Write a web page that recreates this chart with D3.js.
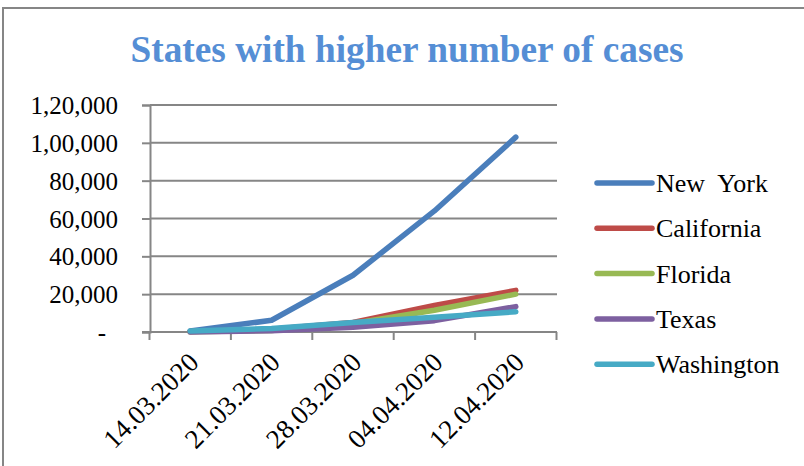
<!DOCTYPE html>
<html lang="en">
<head>
<meta charset="UTF-8">
<title>States with higher number of cases</title>
<script src="https://d3js.org/d3.v7.min.js"></script>
<style>
  body { margin: 0; background: #fff; }
  svg { display: block; font-family: "Liberation Serif", "Times New Roman", serif; }
</style>
</head>
<body>
<div id="chart"></div>
<script>
// data
const dates = ["14.03.2020", "21.03.2020", "28.03.2020", "04.04.2020", "12.04.2020"];
const states = ["New  York", "California", "Florida", "Texas", "Washington"];
const newYork    = [500, 6200, 30000, 64000, 103000];
const california = [250, 1400, 5000, 14000, 22000];
const florida    = [80, 800, 4500, 11500, 20000];
const texas      = [60, 600, 2500, 6000, 13400];
const washington = [570, 1800, 5000, 7800, 10700];
const yTicks = [0, 20000, 40000, 60000, 80000, 100000, 120000];
const colors = ["#4a7ebb", "#be4b48", "#98b954", "#7d60a0", "#46aac5"];

const series = [newYork, california, florida, texas, washington];

const width = 804, height = 466;
const svg = d3.select("#chart").append("svg")
    .attr("width", width)
    .attr("height", height);

// outer chart border
svg.append("rect")
    .attr("x", 3).attr("y", 8)
    .attr("width", 820).attr("height", 480)
    .attr("fill", "none")
    .attr("stroke", "#868686")
    .attr("stroke-width", 2);

// title
svg.append("text")
    .attr("x", 407).attr("y", 62)
    .attr("text-anchor", "middle")
    .attr("font-size", 38)
    .attr("font-weight", "bold")
    .attr("fill", "#558ed5")
    .attr("textLength", 553)
    .attr("lengthAdjust", "spacingAndGlyphs")
    .text("States with higher number of cases");

const x = d3.scalePoint().domain(dates).range([149.5, 556.5]).padding(0.5);
const y = d3.scaleLinear().domain([0, 120000]).range([332, 105]);
const step = x.step();

const grey = "#868686";

// horizontal gridlines
svg.append("g").selectAll("line")
    .data(yTicks.filter(d => d > 0))
    .join("line")
    .attr("x1", 150).attr("x2", 557)
    .attr("y1", d => y(d)).attr("y2", d => y(d))
    .attr("stroke", grey).attr("stroke-width", 2);

// y axis
const fmt = d3.format(",");
const yAxis = svg.append("g")
    .attr("transform", "translate(150,0)")
    .call(d3.axisLeft(y).tickValues(yTicks).tickSize(8).tickPadding(24)
        .tickFormat(d => d === 0 ? "-" : fmt(d).replace("120,000", "1,20,000").replace("100,000", "1,00,000")));
yAxis.select(".domain").attr("stroke", grey).attr("stroke-width", 2);
yAxis.selectAll(".tick line").attr("stroke", grey).attr("stroke-width", 2);
yAxis.selectAll(".tick text")
    .attr("font-family", "Liberation Serif, serif")
    .attr("font-size", 25)
    .attr("fill", "#000")
    .attr("dy", "0.34em");
yAxis.selectAll(".tick text").filter(d => d === 0).attr("dx", -12);

// x axis line and ticks at category boundaries
const xg = svg.append("g");
xg.append("line")
    .attr("x1", 142).attr("x2", 557)
    .attr("y1", y(0)).attr("y2", y(0))
    .attr("stroke", grey).attr("stroke-width", 2);
const bounds = dates.map(d => x(d) - step / 2).concat([x(dates[dates.length - 1]) + step / 2]);
xg.selectAll("line.tk")
    .data(bounds)
    .join("line")
    .attr("class", "tk")
    .attr("x1", d => d).attr("x2", d => d)
    .attr("y1", y(0)).attr("y2", y(0) + 8)
    .attr("stroke", grey).attr("stroke-width", 2);
xg.selectAll("text")
    .data(dates)
    .join("text")
    .attr("transform", d => `translate(${x(d) + 10},${y(0) + 32}) rotate(-45)`)
    .attr("text-anchor", "end")
    .attr("font-size", 27)
    .attr("fill", "#000")
    .text(d => d);

// series lines
const line = d3.line()
    .x((d, i) => x(dates[i]))
    .y(d => y(d));

svg.append("g").selectAll("path")
    .data(series)
    .join("path")
    .attr("d", line)
    .attr("fill", "none")
    .attr("stroke", (d, i) => colors[i])
    .attr("stroke-width", 5.5)
    .attr("stroke-linecap", "round")
    .attr("stroke-linejoin", "round");

// legend
const legend = svg.append("g").selectAll("g")
    .data(states)
    .join("g")
    .attr("transform", (d, i) => `translate(597,${183 + i * 45.3})`);
legend.append("line")
    .attr("x1", 0).attr("x2", 55)
    .attr("stroke", (d, i) => colors[i])
    .attr("stroke-width", 5.5)
    .attr("stroke-linecap", "round");
legend.append("text")
    .attr("x", 59).attr("y", 9)
    .attr("font-size", 26)
    .attr("fill", "#000")
    .attr("xml:space", "preserve")
    .style("white-space", "pre")
    .text(d => d);
</script>
</body>
</html>
